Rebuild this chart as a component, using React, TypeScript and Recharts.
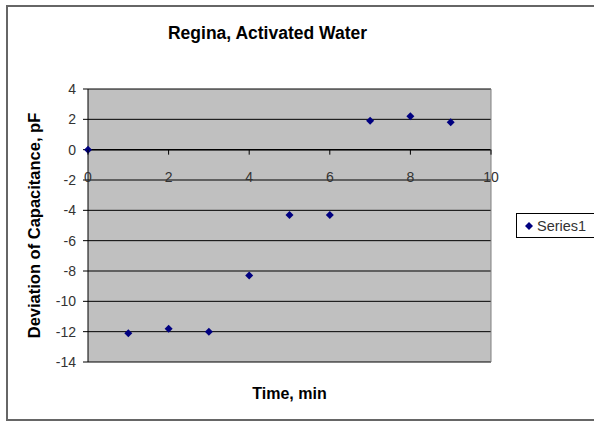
import React from 'react';
import { ScatterChart, Scatter, XAxis, YAxis, CartesianGrid, ReferenceLine, Legend } from 'recharts';

const timeMin = [0, 1, 2, 3, 4, 5, 6, 7, 8, 9];
const deviationPF = [0, -12.1, -11.8, -12.0, -8.3, -4.3, -4.3, 1.9, 2.2, 1.8];
const xTicks = [0, 2, 4, 6, 8, 10];
const yTicks = [-14, -12, -10, -8, -6, -4, -2, 0, 2, 4];
const seriesName = 'Series1';
const chartTitle = 'Regina, Activated Water';
const xTitle = 'Time, min';
const yTitle = 'Deviation of Capacitance, pF';

const data = timeMin.map((t, i) => ({ t, d: deviationPF[i] }));

const W = 594;
const H = 421;
const legendWidth = 90;
// the legend (aligned right) reserves its own width on the right side
const margin = { top: 89, right: 103 - legendWidth, bottom: 29, left: 40 };
const xAxisHeight = 30;
const plotTop = margin.top;
const plotBottom = H - margin.bottom - xAxisHeight;
const yMin = -14;
const yMax = 4;
const yOfZero = plotTop + ((plotBottom - plotTop) * (yMax - 0)) / (yMax - yMin);
const FONT = 'Arial, "Liberation Sans", sans-serif';

const XTick = (props: any) => {
  const { x, payload } = props;
  return (
    <g>
      <line x1={x} x2={x} y1={yOfZero} y2={yOfZero + 5} stroke="#000" />
      <text x={x} y={yOfZero + 27} textAnchor="middle" dominantBaseline="central" fontSize={14} fill="#333" fontFamily={FONT}>
        {payload.value}
      </text>
    </g>
  );
};

const Diamond = (props: any) => {
  const { cx, cy } = props;
  const r = 4;
  return <polygon points={`${cx},${cy - r} ${cx + r},${cy} ${cx},${cy + r} ${cx - r},${cy}`} fill="#000080" />;
};

const LegendBox = () => (
  <div
    style={{
      border: '1px solid #000',
      height: 25,
      width: legendWidth,
      boxSizing: 'border-box',
      display: 'flex',
      alignItems: 'center',
      fontFamily: FONT,
      fontSize: 14.5,
      color: '#333',
      background: '#fff',
    }}
  >
    <svg width={14} height={10} style={{ marginLeft: 5 }}>
      <polygon points="7,1 11,5 7,9 3,5" fill="#000080" />
    </svg>
    <span style={{ marginLeft: 1 }}>{seriesName}</span>
  </div>
);

export default function App() {
  return (
    <div style={{ position: 'absolute', left: 0, top: 0, width: W, height: H, background: '#fff' }}>
      <div
        style={{
          position: 'absolute',
          left: 6,
          top: 5,
          width: 620,
          height: 412,
          border: '2px solid #666',
        }}
      />
      <div
        style={{
          position: 'absolute',
          left: 0,
          width: 535,
          top: 23,
          textAlign: 'center',
          fontFamily: FONT,
          fontWeight: 'bold',
          fontSize: 17.5,
          color: '#000',
          zIndex: 2,
        }}
      >
        {chartTitle}
      </div>
      <ScatterChart width={W} height={H} margin={margin}>
        <CartesianGrid vertical={false} stroke="#000" fill="#c0c0c0" fillOpacity={1} />
        <XAxis
          type="number"
          dataKey="t"
          domain={[0, 10]}
          ticks={xTicks}
          height={xAxisHeight}
          axisLine={false}
          tickLine={false}
          tick={<XTick />}
          interval={0}
          label={{
            content: (p: any) => {
              const vb = p.viewBox;
              return (
                <text x={vb.x + vb.width / 2} y={393} textAnchor="middle" dominantBaseline="central" fontFamily={FONT} fontWeight="bold" fontSize={16} fill="#000">
                  {xTitle}
                </text>
              );
            },
          }}
        />
        <YAxis
          type="number"
          dataKey="d"
          domain={[yMin, yMax]}
          ticks={yTicks}
          width={48}
          interval={0}
          axisLine={{ stroke: '#000' }}
          tickLine={{ stroke: '#000' }}
          tickSize={5}
          tickMargin={7}
          tick={{ fontSize: 14, fill: '#333', fontFamily: FONT }}
          label={{
            content: (p: any) => {
              const vb = p.viewBox;
              const cy = vb.y + vb.height / 2;
              return (
                <text x={34} y={cy} transform={`rotate(-90, 34, ${cy})`} textAnchor="middle" dominantBaseline="central" fontFamily={FONT} fontWeight="bold" fontSize={16.5} fill="#000">
                  {yTitle}
                </text>
              );
            },
          }}
        />
        <ReferenceLine y={0} stroke="#000" strokeWidth={1.5} />
        <ReferenceLine x={10} stroke="#808080" />
        <Legend
          layout="horizontal"
          verticalAlign="middle"
          align="right"
          content={<LegendBox />}
          wrapperStyle={{ left: 516, top: 213, width: legendWidth, height: 25 }}
        />
        <Scatter name={seriesName} data={data} shape={<Diamond />} isAnimationActive={false} />
      </ScatterChart>
    </div>
  );
}
